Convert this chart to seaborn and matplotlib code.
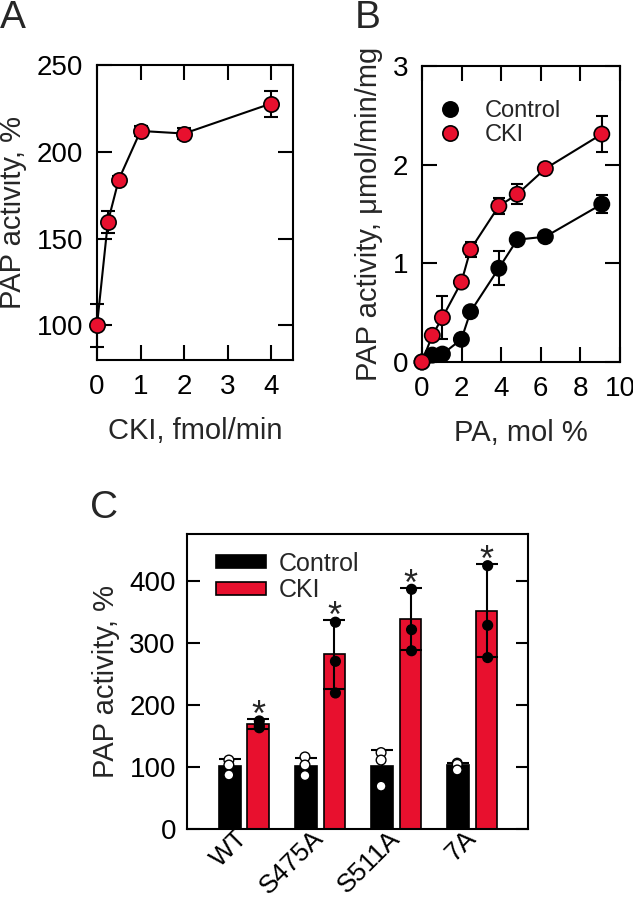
import numpy as np
import pandas as pd
import matplotlib
matplotlib.use("Agg")
import matplotlib.pyplot as plt
import seaborn as sns

# ---- panel A: PAP activity vs CKI amount
cki_amount = [0, 0.25, 0.5, 1, 2, 4]
cki_activity = [100, 159.6, 184, 212, 210.5, 227.8]
cki_activity_err = [12.5, 6.5, 2, 3, 3, 7.5]

# ---- panel B: PAP activity vs PA concentration
pa_mol = [0, 0.52, 1.03, 1.99, 2.45, 3.88, 4.81, 6.23, 9.08]
control_activity = [0, 0.07, 0.08, 0.23, 0.51, 0.95, 1.24, 1.27, 1.60]
control_err = [0, 0.02, 0.02, 0.02, 0.03, 0.17, 0.03, 0.03, 0.09]
cki_pa_activity = [0, 0.27, 0.45, 0.81, 1.14, 1.58, 1.70, 1.96, 2.31]
cki_pa_err = [0, 0.04, 0.22, 0.03, 0.08, 0.08, 0.10, 0.05, 0.18]

# ---- panel C: mutants
mutants = ["WT", "S475A", "S511A", "7A"]
control_mean = [101, 101, 101, 103]
control_sd = [11, 13, 26, 3]
cki_mean = [169, 281, 338, 351.5]
cki_sd = [8, 56, 50, 75]
control_points = [[111, 103, 87], [116, 103, 86], [123, 111, 69], [106, 104, 95]]
cki_points = [[174, 167, 163], [333, 270, 219], [386, 321, 287], [424, 328, 276]]

red = "#E8102E"

sns.set_theme(style="ticks", rc={"axes.linewidth": 1.5})
plt.rcParams["font.family"] = ["Liberation Sans", "DejaVu Sans"]

fig = plt.figure(figsize=(6.33, 9.07), dpi=100)
axA = fig.add_axes([97 / 633, 1 - 360 / 907, 196 / 633, 295 / 907])
axB = fig.add_axes([422 / 633, 1 - 362 / 907, 198 / 633, 296 / 907])
axC = fig.add_axes([187 / 633, 1 - 829 / 907, 341 / 633, 295 / 907])

tick_kw = dict(direction="in", width=1.5, labelsize=20, colors="black")
label_size = 21

# ---------------- A
sns.lineplot(x=cki_amount, y=cki_activity, ax=axA, color="black", lw=1.5,
             marker="o", markersize=11, markerfacecolor=red,
             markeredgecolor="black", markeredgewidth=1.2, zorder=3, clip_on=False)
axA.errorbar(cki_amount, cki_activity, yerr=cki_activity_err, fmt="none",
             ecolor="black", elinewidth=1.5, capsize=5, capthick=1.5,
             zorder=2, clip_on=False)
axA.set_xlim(0, 4.5)
axA.set_ylim(80, 250)
axA.set_xticks([0, 1, 2, 3, 4])
axA.set_yticks([100, 150, 200, 250])
axA.tick_params(length=11, pad=10, top=True, right=True, **tick_kw)
axA.set_xlabel("CKI, fmol/min", fontsize=label_size, labelpad=12)
axA.set_ylabel("PAP activity, %", fontsize=label_size, labelpad=7)

# ---------------- B
b_df = pd.DataFrame({
    "pa": pa_mol * 2,
    "activity": control_activity + cki_pa_activity,
    "condition": ["Control"] * len(pa_mol) + ["CKI"] * len(pa_mol),
})
sns.lineplot(data=b_df, x="pa", y="activity", hue="condition",
             palette={"Control": "black", "CKI": "black"}, lw=1.5,
             legend=False, ax=axB, zorder=2)
axB.errorbar(pa_mol, control_activity, yerr=control_err, fmt="none",
             ecolor="black", elinewidth=1.5, capsize=4, capthick=1.5, zorder=1)
axB.errorbar(pa_mol, cki_pa_activity, yerr=cki_pa_err, fmt="none",
             ecolor="black", elinewidth=1.5, capsize=4, capthick=1.5, zorder=1)
sns.scatterplot(data=b_df, x="pa", y="activity", hue="condition",
                palette={"Control": "black", "CKI": red}, s=121,
                edgecolor="black", linewidth=1.2, ax=axB, zorder=3,
                clip_on=False)
handles, labels = axB.get_legend_handles_labels()
axB.legend(handles, labels, loc="upper left", bbox_to_anchor=(0.02, 0.885),
           frameon=False, fontsize=17, labelspacing=0.1, handletextpad=0.5,
           borderaxespad=0, borderpad=0)
axB.set_xlim(0, 10)
axB.set_ylim(0, 3)
axB.set_xticks([0, 2, 4, 6, 8, 10])
axB.set_yticks([0, 1, 2, 3])
axB.tick_params(length=11, pad=10, top=True, right=True, **tick_kw)
axB.set_xlabel("PA, mol %", fontsize=label_size, labelpad=12)
axB.set_ylabel("PAP activity, μmol/min/mg", fontsize=label_size, labelpad=7)

# ---------------- C
c_df = pd.DataFrame({
    "mutant": mutants * 2,
    "condition": ["Control"] * 4 + ["CKI"] * 4,
    "activity": control_mean + cki_mean,
})
bar_width = 0.746
sns.barplot(data=c_df, x="mutant", y="activity", hue="condition",
            hue_order=["Control", "CKI"], order=mutants,
            palette={"Control": "black", "CKI": red}, saturation=1,
            width=bar_width, gap=0.24, edgecolor="black", linewidth=1.2,
            errorbar=None, ax=axC, zorder=1)

pts_rows = []
for m, cp, kp in zip(mutants, control_points, cki_points):
    for v in cp:
        pts_rows.append((m, "Control", v))
    for v in kp:
        pts_rows.append((m, "CKI", v))
pts_df = pd.DataFrame(pts_rows, columns=["mutant", "condition", "activity"])

offs = bar_width / 4
xc = np.arange(len(mutants)) - offs
xk = np.arange(len(mutants)) + offs
axC.errorbar(xc, control_mean, yerr=control_sd, fmt="none", ecolor="black",
             elinewidth=1.5, capsize=8, capthick=1.5, zorder=3)
axC.errorbar(xk, cki_mean, yerr=cki_sd, fmt="none", ecolor="black",
             elinewidth=1.5, capsize=8, capthick=1.5, zorder=3)
sns.stripplot(data=pts_df, x="mutant", y="activity", hue="condition",
              hue_order=["Control", "CKI"], order=mutants, dodge=True, jitter=False,
              palette={"Control": "white", "CKI": "black"}, size=7,
              edgecolor="black", linewidth=1, legend=False, ax=axC, zorder=4)

for x, m, s in zip(xk, cki_mean, cki_sd):
    axC.annotate("*", (x, m + s), xytext=(0, -5), textcoords="offset points",
                 ha="center", va="baseline", fontsize=26)

axC.legend(loc="upper left", bbox_to_anchor=(0.085, 0.94), frameon=False,
           fontsize=18, handlelength=2.0, handleheight=0.4, labelspacing=0.1,
           handletextpad=0.5, borderaxespad=0, borderpad=0)
axC.set_xlim(-0.75, 3.73)
axC.set_ylim(0, 475)
axC.set_yticks([0, 100, 200, 300, 400])
axC.tick_params(axis="y", length=9, pad=8, left=True, right=True, **tick_kw)
axC.tick_params(axis="x", length=0, pad=4, labelsize=19, colors="black")
for lab in axC.get_xticklabels():
    lab.set_rotation(45)
    lab.set_ha("right")
    lab.set_va("center")
    lab.set_rotation_mode("anchor")
axC.set_xlabel("")
axC.set_ylabel("PAP activity, %", fontsize=label_size, labelpad=7)

for ax in (axA, axB, axC):
    for sp in ax.spines.values():
        sp.set_visible(True)
        sp.set_linewidth(1.5)
        sp.set_color("black")

fig.text(0.0, 1 - 28 / 907, "A", fontsize=28, va="baseline")
fig.text(355 / 633, 1 - 28 / 907, "B", fontsize=28, va="baseline")
fig.text(90 / 633, 1 - 518 / 907, "C", fontsize=28, va="baseline")

fig.savefig("out.png", dpi=100)
